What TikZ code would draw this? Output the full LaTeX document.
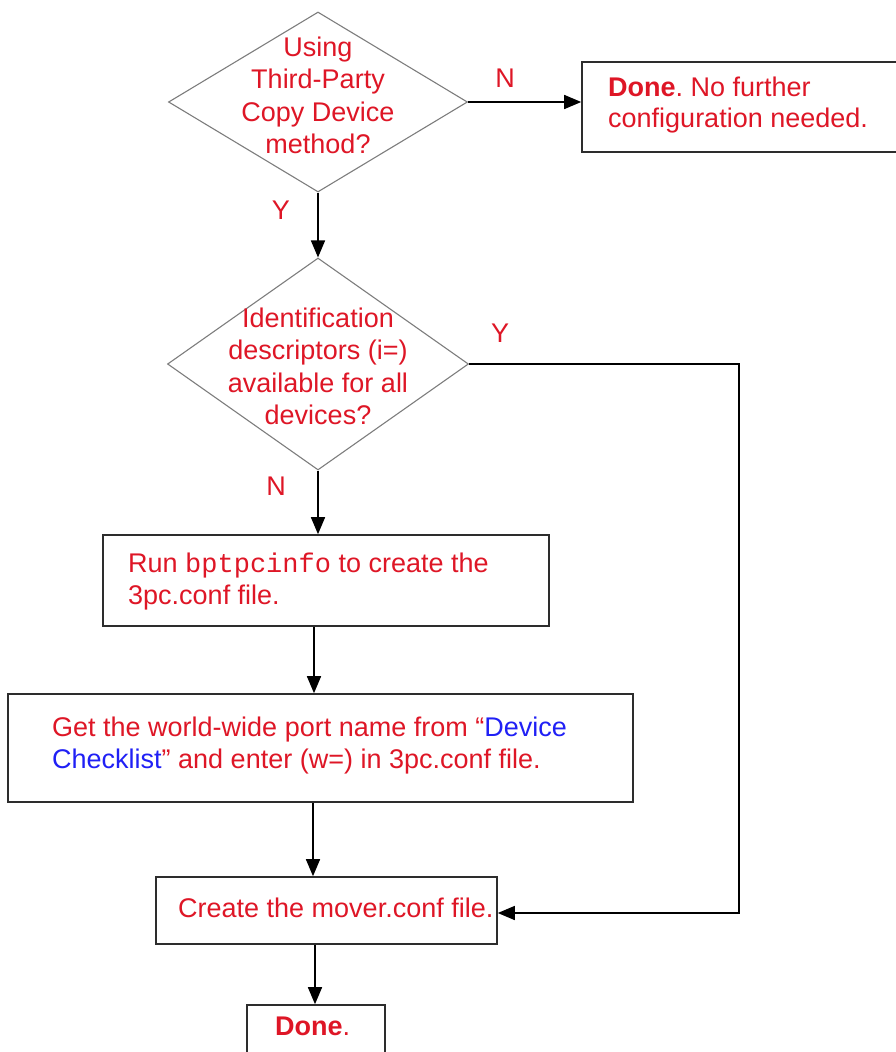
\documentclass[tikz,border=0pt]{standalone}
\usepackage{fontspec}
\setmainfont{Liberation Sans}
\setmonofont{Liberation Mono}
\usetikzlibrary{shapes.geometric,arrows.meta,calc}
\definecolor{tred}{RGB}{222,22,38}
\definecolor{tblue}{RGB}{32,32,245}
\definecolor{dgray}{RGB}{125,125,125}
\definecolor{bline}{RGB}{45,45,45}
\frenchspacing
\begin{document}
\begin{tikzpicture}[x=1pt,y=-1pt,
  dec/.style={diamond,draw=dgray,line width=1.1pt,inner sep=0pt,minimum width=#1},
  boxn/.style={rectangle,draw=bline,line width=1.6pt,inner sep=0pt},
  txt/.style={inner sep=0pt,text=tred,font=\fontsize{27}{32.5}\selectfont},
  arr/.style={draw=black,line width=1.5pt,-{Triangle[length=17pt,width=14pt]}},
  ln/.style={draw=black,line width=1.5pt}]
\useasboundingbox (0,0) rectangle (896,1052);
% decision 1
\node[dec=299pt,minimum height=180pt] (d1) at (318,102) {};
\node[txt,align=center,anchor=north] (d1t) at (318,36.5) {Using\\Third-Party\\Copy Device\\method?};
% done box right
\node[boxn,minimum width=340pt,minimum height=90pt] (done1) at (752,107) {};
\node[txt,align=left,anchor=north west,font=\fontsize{27}{31}\selectfont] (done1t) at (608,76.5) {\textbf{Done}. No further\\configuration needed.};
% decision 2
\node[dec=301pt,minimum height=212pt] (d2) at (318,364) {};
\node[txt,align=center,anchor=north] (d2t) at (318,307.3) {Identification\\descriptors (i=)\\available for all\\devices?};
% run box
\node[boxn,minimum width=446pt,minimum height=91pt] (run) at (326,580.5) {};
\node[txt,align=left,anchor=north west] (runt) at (128,552.5) {Run \texttt{bptpcinfo} to create the\\3pc.conf file.};
% get box
\node[boxn,minimum width=625pt,minimum height=108pt] (get) at (320.5,748) {};
\node[txt,align=left,anchor=north west] (gett) at (52,716.5) {Get the world-wide port name from ``\textcolor{tblue}{Device}\\\textcolor{tblue}{Checklist}'' and enter (w=) in 3pc.conf file.};
% create box
\node[boxn,minimum width=341pt,minimum height=67pt] (create) at (326.5,910.5) {};
\node[txt,anchor=base west] (createt) at (178,917) {Create the mover.conf file.};
% final done box
\node[boxn,minimum width=138pt,minimum height=80pt] (done2) at (316,1045) {};
\node[txt,anchor=base west] (done2t) at (275,1035) {\textbf{Done}.};
% labels
\node[txt] (lN1) at (505,78) {N};
\node[txt] (lY1) at (281,210) {Y};
\node[txt] (lY2) at (500,333) {Y};
\node[txt] (lN2) at (276,486) {N};
% connectors
\coordinate (rx) at (739,0);
\coordinate (cin) at ($(create.east)+(0,2.5)$);
\draw[arr] (d1.east) -- (d1.east -| done1.west);
\draw[arr] (d1.south) -- (d2.north);
\draw[arr] (d2.east) -| (rx |- cin) -- (cin);
\draw[arr] (d2.south) -- (d2.south |- run.north);
\draw[arr] ([xshift=-12pt]run.south) -- ([xshift=-12pt]run.south |- get.north);
\draw[arr] ([xshift=-7.5pt]get.south) -- ([xshift=-7.5pt]get.south |- create.north);
\draw[arr] ([xshift=-11.5pt]create.south) -- ([xshift=-11.5pt]create.south |- done2.north);
\end{tikzpicture}
\end{document}
